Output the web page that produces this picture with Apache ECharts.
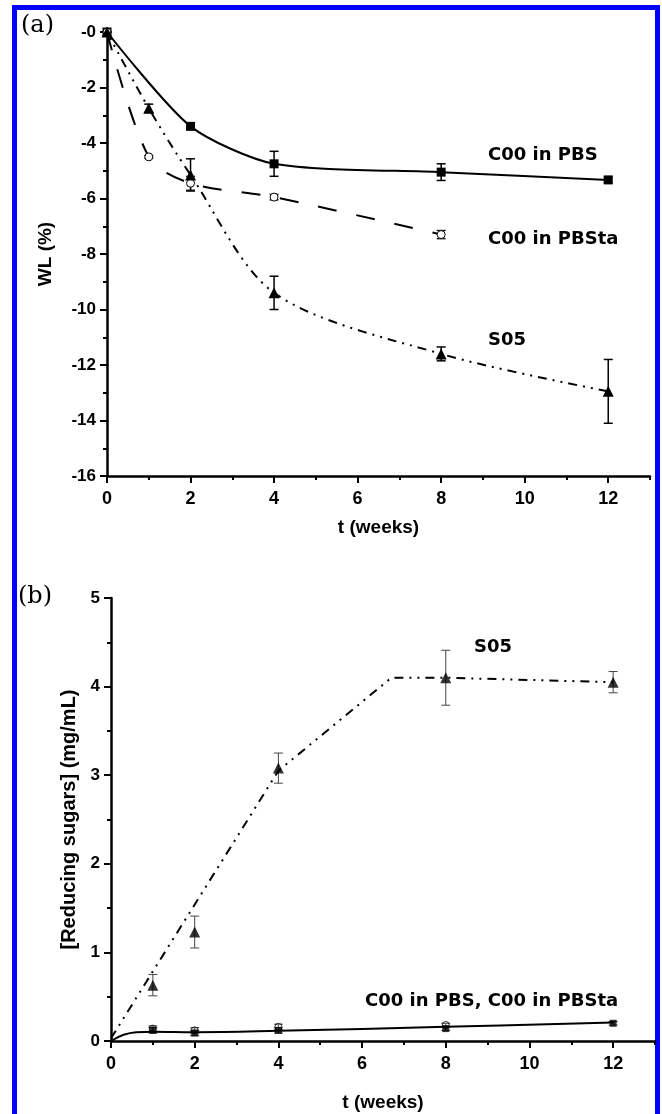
<!DOCTYPE html>
<html>
<head>
<meta charset="utf-8">
<script src="https://cdn.jsdelivr.net/npm/echarts@6/dist/echarts.min.js"></script>
<style>
  html, body { margin: 0; padding: 0; background: #fff; }
  #frame { position: absolute; left: 12px; top: 5px; width: 638px; height: 1200px; border: 5px solid #0000ff; }
  #chart { position: absolute; left: 0; top: 0; width: 662px; height: 1114px; }
</style>
</head>
<body>
<div id="frame"></div>
<div id="chart"></div>
<script>
// 时间点 (周)
const weeks = [0, 1, 2, 4, 8, 12];
const majorX = [0, 2, 4, 6, 8, 10, 12];
const minorX = [1, 3, 5, 7, 9, 11, 13];

// (a) 失重 WL (%)
const pbsWeeks = [0, 2, 4, 8, 12];
const pbsWL = [0, -3.4, -4.75, -5.05, -5.33];
const pbsWLErr = [0, 0.1, 0.45, 0.3, 0.1];
const pbstaWeeks = [0, 1, 2, 4, 8];
const pbstaWL = [0, -4.5, -5.45, -5.95, -7.3];
const pbstaWLErr = [0, 0.05, 0.25, 0.1, 0.15];
const s05WL = [0, -2.75, -5.15, -9.4, -11.6, -12.95];
const s05WLErr = [0, 0.15, 0.58, 0.6, 0.25, 1.15];

// (b) 还原糖 (mg/mL)
const pbsSugarWeeks = [1, 2, 4, 8, 12];
const pbsSugar = [0.12, 0.09, 0.12, 0.14, 0.2];
const pbsSugarErr = [0.03, 0.03, 0.03, 0.02, 0.02];
const pbstaSugarWeeks = [1, 2, 4, 8];
const pbstaSugar = [0.14, 0.12, 0.16, 0.18];
const pbstaSugarErr = [0.03, 0.03, 0.03, 0.02];
const s05SugarWeeks = [1, 2, 4, 8, 12];
const s05Sugar = [0.63, 1.23, 3.08, 4.1, 4.05];
const s05SugarErr = [0.12, 0.18, 0.17, 0.31, 0.12];
// 拟合曲线
const c00FitWeeks = [0, 0.3, 0.6, 1, 2, 4, 8, 12];
const c00Fit = [0, 0.07, 0.1, 0.105, 0.1, 0.115, 0.16, 0.21];
const s05FitWeeks = [0, 4, 6.7, 8, 12];
const s05Fit = [0.03, 3.05, 4.1, 4.1, 4.05];

const zip = (xs, ys) => xs.map((x, i) => [x, ys[i]]);
const errData = (xs, ys, es) => xs.map((x, i) => [x, ys[i] - es[i], ys[i] + es[i]]);

function errorBarSeries(data, xi, yi, color, width) {
    return {
        type: 'custom',
        xAxisIndex: xi,
        yAxisIndex: yi,
        data: data,
        encode: { x: 0, y: [1, 2] },
        z: 3,
        renderItem: function (params, api) {
            const x = api.value(0);
            const lo = api.coord([x, api.value(1)]);
            const hi = api.coord([x, api.value(2)]);
            const w = 4.5;
            const st = { stroke: color, lineWidth: width };
            return {
                type: 'group',
                children: [
                    { type: 'line', shape: { x1: lo[0], y1: lo[1], x2: hi[0], y2: hi[1] }, style: st },
                    { type: 'line', shape: { x1: lo[0] - w, y1: lo[1], x2: lo[0] + w, y2: lo[1] }, style: st },
                    { type: 'line', shape: { x1: hi[0] - w, y1: hi[1], x2: hi[0] + w, y2: hi[1] }, style: st }
                ]
            };
        }
    };
}

const axisFont = { fontFamily: 'Liberation Sans', fontWeight: 'bold', color: '#000' };
const dashDotDot = [9, 6, 2, 6, 2, 6];

function xAxes(gridIndex, nameGap) {
    return [
        {
            gridIndex: gridIndex, type: 'value', min: 0, max: 13, position: 'bottom',
            axisLine: { onZero: false, lineStyle: { color: '#000', width: 2.5 } },
            axisTick: { customValues: majorX, length: 7, lineStyle: { color: '#000', width: 2 } },
            axisLabel: Object.assign({ customValues: majorX, fontSize: 18, margin: 14 }, axisFont),
            splitLine: { show: false },
            name: 't (weeks)', nameLocation: 'middle', nameGap: nameGap,
            nameTextStyle: Object.assign({ fontSize: 19 }, axisFont)
        },
        {
            gridIndex: gridIndex, type: 'value', min: 0, max: 13, position: 'bottom', offset: 0,
            axisLine: { show: false, onZero: false },
            axisTick: { customValues: minorX, length: 4, lineStyle: { color: '#000', width: 2 } },
            axisLabel: { show: false },
            splitLine: { show: false }
        }
    ];
}

function yAxis(gridIndex, min, max, interval, name, nameGap, nameSize, fmt) {
    return {
        gridIndex: gridIndex, type: 'value', min: min, max: max, interval: interval,
        axisLine: { show: true, onZero: false, lineStyle: { color: '#000', width: 2.5 } },
        axisTick: { show: true, length: 7, lineStyle: { color: '#000', width: 2 } },
        minorTick: { show: true, splitNumber: 2, length: 4, lineStyle: { color: '#000', width: 2 } },
        axisLabel: Object.assign({ fontSize: 17, margin: 11, formatter: fmt }, axisFont),
        splitLine: { show: false },
        name: name, nameLocation: 'middle', nameGap: nameGap,
        nameTextStyle: Object.assign({ fontSize: nameSize }, axisFont)
    };
}

const chart = echarts.init(document.getElementById('chart'));
chart.setOption({
    animation: false,
    grid: [
        { left: 107, top: 32, width: 543, height: 444 },
        { left: 111, top: 598, width: 544, height: 443 }
    ],
    xAxis: xAxes(0, 42).concat(xAxes(1, 52)),
    yAxis: [
        yAxis(0, -16, 0, 2, 'WL (%)', 52, 19, v => (v === 0 ? '-0' : String(v))),
        yAxis(1, 0, 5, 1, '[Reducing sugars] (mg/mL)', 32, 20, v => String(v))
    ],
    series: [
        // (a)
        {
            type: 'line', xAxisIndex: 0, yAxisIndex: 0, data: zip(pbsWeeks, pbsWL),
            smooth: 0.25, symbol: 'rect', symbolSize: 9, z: 4,
            itemStyle: { color: '#000' }, lineStyle: { color: '#000', width: 2 }
        },
        {
            type: 'line', xAxisIndex: 0, yAxisIndex: 0, data: zip(pbstaWeeks, pbstaWL),
            smooth: 0.3, symbol: 'circle', symbolSize: 8, z: 4,
            itemStyle: { color: '#fff', borderColor: '#000', borderWidth: 1 },
            lineStyle: { color: '#000', width: 2, type: [19, 20] }
        },
        {
            type: 'line', xAxisIndex: 0, yAxisIndex: 0, data: zip(weeks, s05WL),
            smooth: 0.3, symbol: 'triangle', symbolSize: 11, z: 5,
            itemStyle: { color: '#000' },
            lineStyle: { color: '#000', width: 2, type: dashDotDot }
        },
        errorBarSeries(errData(pbsWeeks, pbsWL, pbsWLErr), 0, 0, '#000', 1.5),
        errorBarSeries(errData(pbstaWeeks, pbstaWL, pbstaWLErr), 0, 0, '#000', 1.2),
        errorBarSeries(errData(weeks, s05WL, s05WLErr), 0, 0, '#000', 1.5),
        // (b)
        {
            type: 'line', xAxisIndex: 2, yAxisIndex: 1, data: zip(c00FitWeeks, c00Fit),
            smooth: 0.4, showSymbol: false, symbol: 'none',
            lineStyle: { color: '#000', width: 2 }
        },
        {
            type: 'line', xAxisIndex: 2, yAxisIndex: 1, data: zip(s05FitWeeks, s05Fit),
            showSymbol: false, symbol: 'none',
            lineStyle: { color: '#000', width: 2, type: dashDotDot }
        },
        errorBarSeries(errData(pbsSugarWeeks, pbsSugar, pbsSugarErr), 2, 1, '#444', 1),
        errorBarSeries(errData(pbstaSugarWeeks, pbstaSugar, pbstaSugarErr), 2, 1, '#444', 1),
        errorBarSeries(errData(s05SugarWeeks, s05Sugar, s05SugarErr), 2, 1, '#444', 1),
        {
            type: 'scatter', xAxisIndex: 2, yAxisIndex: 1, data: zip(pbsSugarWeeks, pbsSugar),
            symbol: 'rect', symbolSize: 7, z: 4, itemStyle: { color: '#000' }
        },
        {
            type: 'scatter', xAxisIndex: 2, yAxisIndex: 1, data: zip(pbstaSugarWeeks, pbstaSugar),
            symbol: 'circle', symbolSize: 7, z: 4,
            itemStyle: { color: 'rgba(255,255,255,0)', borderColor: '#000', borderWidth: 1 }
        },
        {
            type: 'scatter', xAxisIndex: 2, yAxisIndex: 1, data: zip(s05SugarWeeks, s05Sugar),
            symbol: 'triangle', symbolSize: 11, z: 5, itemStyle: { color: '#000' }
        }
    ],
    graphic: [
        { type: 'text', left: 21, top: 14, style: { text: '(a)', font: '24px "DejaVu Serif"', fill: '#000' } },
        { type: 'text', left: 18, top: 585, style: { text: '(b)', font: '24px "DejaVu Serif"', fill: '#000' } },
        { type: 'text', left: 488, top: 146, style: { text: 'C00 in PBS', font: 'bold 18px "DejaVu Sans"', fill: '#000' } },
        { type: 'text', left: 488, top: 230, style: { text: 'C00 in PBSta', font: 'bold 18px "DejaVu Sans"', fill: '#000' } },
        { type: 'text', left: 488, top: 331, style: { text: 'S05', font: 'bold 18px "DejaVu Sans"', fill: '#000' } },
        { type: 'text', left: 474, top: 638, style: { text: 'S05', font: 'bold 18px "DejaVu Sans"', fill: '#000' } },
        { type: 'text', left: 365, top: 992, style: { text: 'C00 in PBS, C00 in PBSta', font: 'bold 18px "DejaVu Sans"', fill: '#000' } }
    ]
});
</script>
</body>
</html>
